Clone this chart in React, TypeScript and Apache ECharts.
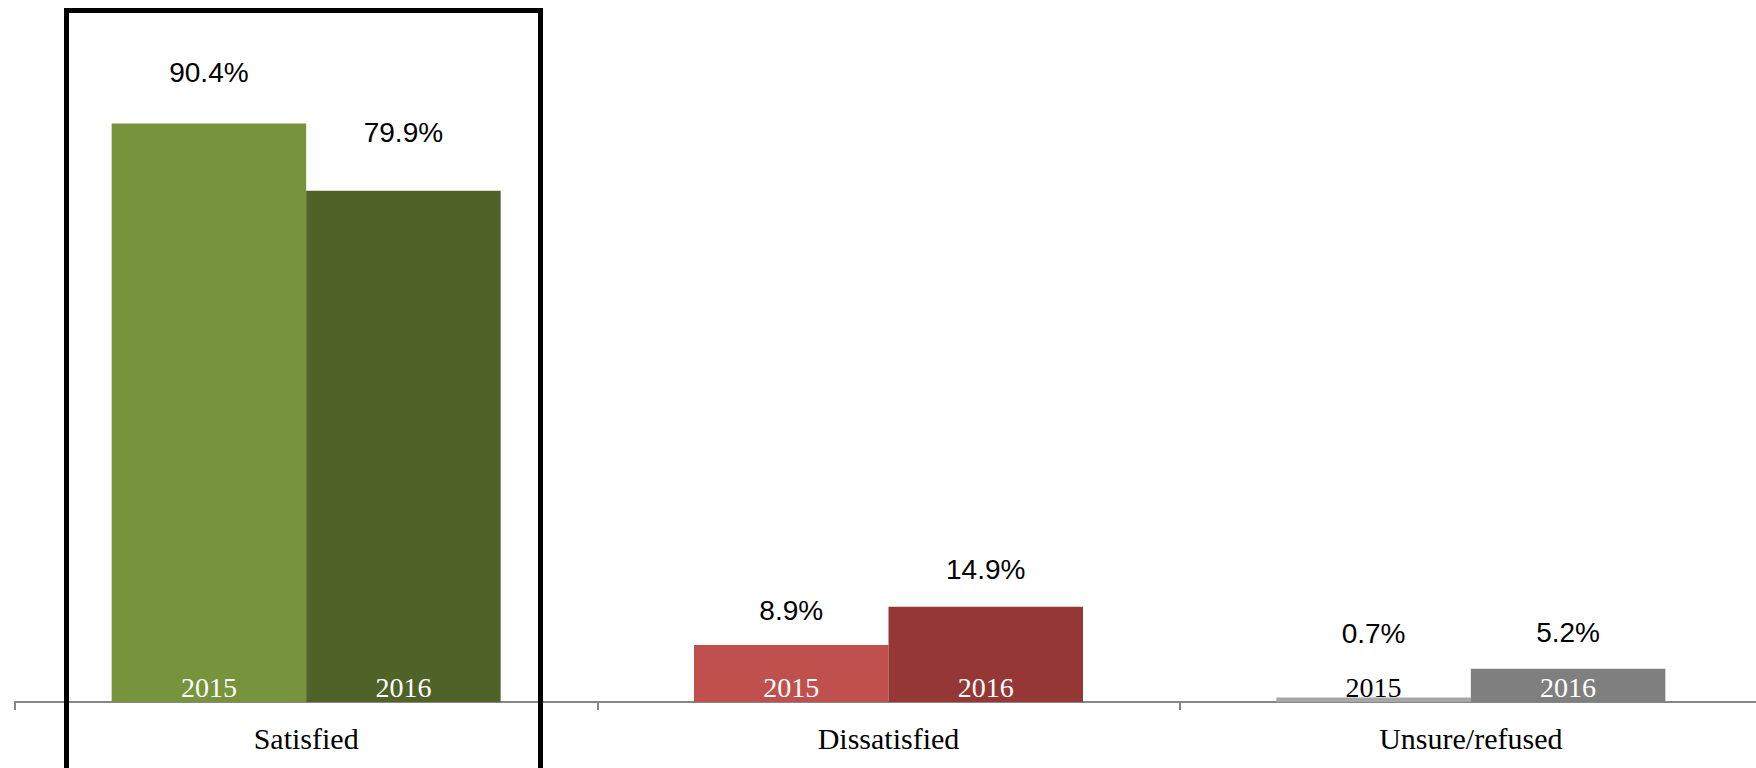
import React, { useEffect, useRef } from "react";
import * as echarts from "echarts";

const categories = ["Satisfied", "Dissatisfied", "Unsure/refused"];
const years = ["2015", "2016"];
const values2015 = [90.4, 8.9, 0.7];
const values2016 = [79.9, 14.9, 5.2];

const colors2015 = ["#77933C", "#C0504D", "#A6A6A6"];
const colors2016 = ["#4F6228", "#953735", "#7F7F7F"];
const yearLabelColors2015 = ["#FFFFFF", "#FFFFFF", "#000000"];
const yearLabelColors2016 = ["#FFFFFF", "#FFFFFF", "#FFFFFF"];
// vertical offsets of the value labels above each bar (manually placed in the original)
const valueLabelOffsets2015 = [-32, -16, -45];
const valueLabelOffsets2016 = [-39, -18, -17];

const SERIF = "'Liberation Serif', 'Times New Roman', serif";
const SANS = "'Liberation Sans', Arial, sans-serif";

export default function App() {
  const ref = useRef<HTMLDivElement>(null);

  useEffect(() => {
    if (!ref.current) return;
    const chart = echarts.init(ref.current, null, { renderer: "svg" });

    const mainSeries = (
      name: string,
      values: number[],
      colors: string[],
      labelColors: string[]
    ) => ({
      type: "bar",
      name,
      xAxisIndex: 0,
      yAxisIndex: 0,
      barGap: "0%",
      barCategoryGap: "33.2%",
      data: values.map((v, i) => ({
        value: v,
        itemStyle: { color: colors[i] },
        label: { color: labelColors[i] },
      })),
      label: {
        show: true,
        position: "insideBottom",
        distance: 1,
        formatter: name,
        fontFamily: SERIF,
        fontSize: 28,
        color: "#fff",
      },
      silent: true,
      z: 2,
    });

    const labelSeries = (name: string, values: number[], offsets: number[]) => ({
      type: "bar",
      name: name + " value",
      xAxisIndex: 1,
      yAxisIndex: 0,
      barGap: "0%",
      barCategoryGap: "33.2%",
      itemStyle: { color: "rgba(0,0,0,0)" },
      data: values.map((v, i) => ({
        value: v,
        label: { offset: [0, offsets[i]] },
      })),
      label: {
        show: true,
        position: "top",
        formatter: (p: any) => p.value.toFixed(1) + "%",
        fontFamily: SANS,
        fontSize: 28,
        color: "#000",
      },
      silent: true,
      z: 3,
    });

    chart.setOption({
      animation: false,
      backgroundColor: "#ffffff",
      grid: {
        left: 15,
        width: 1747,
        top: 62,
        bottom: 66,
        containLabel: false,
        outerBoundsMode: "none",
      },
      xAxis: [
        {
          type: "category",
          data: categories,
          axisLine: { show: true, lineStyle: { color: "#868686", width: 2 } },
          axisTick: { show: true, length: 8, lineStyle: { color: "#868686", width: 2 } },
          axisLabel: {
            fontFamily: SERIF,
            fontSize: 30,
            color: "#000",
            margin: 21,
            interval: 0,
          },
          splitLine: { show: false },
        },
        {
          type: "category",
          data: categories,
          show: false,
        },
      ],
      yAxis: [
        {
          type: "value",
          min: 0,
          max: 100,
          show: false,
          splitLine: { show: false },
        },
      ],
      series: [
        mainSeries(years[0], values2015, colors2015, yearLabelColors2015),
        mainSeries(years[1], values2016, colors2016, yearLabelColors2016),
        labelSeries(years[0], values2015, valueLabelOffsets2015),
        labelSeries(years[1], values2016, valueLabelOffsets2016),
      ],
      graphic: [
        {
          type: "rect",
          z: 100,
          silent: true,
          shape: { x: 66.5, y: 10.5, width: 474, height: 800 },
          style: { fill: "none", stroke: "#000", lineWidth: 5 },
        },
      ],
    });

    return () => {
      chart.dispose();
    };
  }, []);

  return (
    <div
      ref={ref}
      style={{ position: "fixed", left: 0, top: 0, width: 1756, height: 768, background: "#fff" }}
    />
  );
}
